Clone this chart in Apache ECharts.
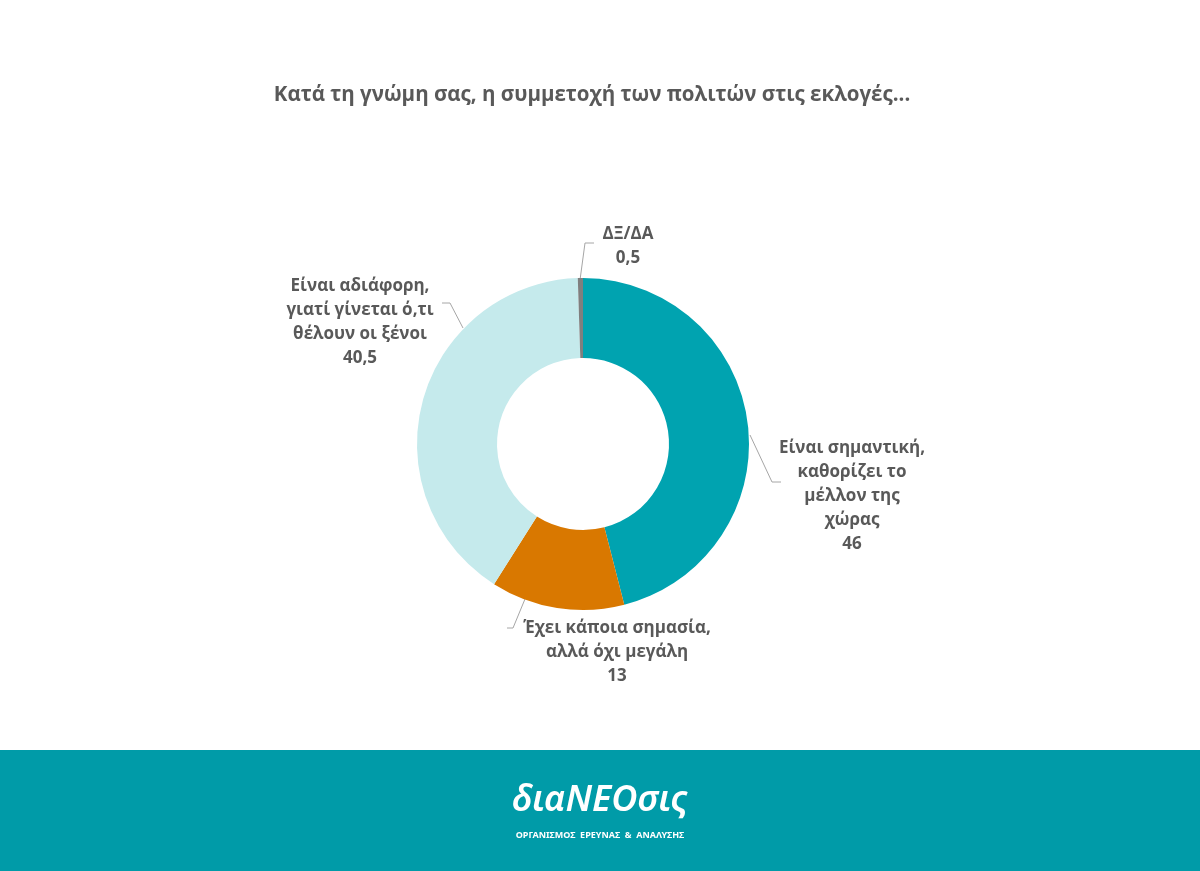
<!DOCTYPE html>
<html lang="el">
<head>
    <meta charset="UTF-8">
    <title>echarts</title>
    <script src="https://cdn.jsdelivr.net/npm/echarts@6/dist/echarts.min.js"></script>
    <style>
        html, body { margin: 0; padding: 0; background: #fff; }
    </style>
</head>
<body>
    <div id="charts1" style="width: 1200px;height:871px;"></div>
    <script type="text/javascript">
        // δεδομένα
        var categories = [
            'Είναι σημαντική,\nκαθορίζει το\nμέλλον της\nχώρας',
            'Έχει κάποια σημασία,\nαλλά όχι μεγάλη',
            'Είναι αδιάφορη,\nγιατί γίνεται ό,τι\nθέλουν οι ξένοι',
            'ΔΞ/ΔΑ'
        ];
        var values = [46, 13, 40.5, 0.5];
        var colors = ['#00A3B0', '#D97800', '#C5EAEC', '#7F7F7F'];

        // θέσεις ετικετών (κέντρο κειμένου) και γραμμές οδηγοί
        var labelPos = [[852, 496], [617, 652], [360, 322], [628, 246]];
        var leaderLines = [
            [[750, 435], [772, 482], [781, 482]],
            [[525, 599], [513, 628], [507, 628]],
            [[463, 328], [450, 303], [442, 303]],
            [[580, 280], [585, 243], [594, 243]]
        ];

        var myChart = echarts.init(document.getElementById('charts1'));

        var data = [];
        for (var i = 0; i < values.length; i++) {
            data.push({
                name: categories[i],
                value: values[i],
                itemStyle: { color: colors[i] }
            });
        }

        var option = {
            backgroundColor: '#ffffff',
            title: {
                text: 'Κατά τη γνώμη σας, η συμμετοχή των πολιτών στις εκλογές...',
                left: 587,
                top: 80,
                textAlign: 'center',
                textStyle: {
                    fontFamily: 'Open Sans',
                    fontSize: 20.5,
                    fontWeight: 'bold',
                    color: '#595959'
                }
            },
            graphic: [
                {
                    type: 'rect',
                    shape: { x: 0, y: 750, width: 1200, height: 121 },
                    style: { fill: '#009BA8' },
                    z: -1
                },
                {
                    type: 'text',
                    x: 600, y: 801,
                    style: {
                        text: 'διαNEOσις',
                        fill: '#ffffff',
                        font: 'italic 600 36px "Noto Sans"',
                        align: 'center',
                        verticalAlign: 'middle'
                    }
                },
                {
                    type: 'text',
                    x: 600, y: 835,
                    style: {
                        text: 'ΟΡΓΑΝΙΣΜΟΣ  ΕΡΕΥΝΑΣ  &  ΑΝΑΛΥΣΗΣ',
                        fill: '#ffffff',
                        font: 'bold 9px "Noto Sans"',
                        align: 'center',
                        verticalAlign: 'middle'
                    }
                }
            ],
            series: [{
                type: 'pie',
                center: [583, 444],
                radius: [86, 166],
                startAngle: 90,
                clockwise: true,
                animation: false,
                data: data,
                label: {
                    show: true,
                    formatter: function (p) {
                        return p.name + '\n' + String(p.value).replace('.', ',');
                    },
                    fontFamily: 'Open Sans',
                    fontSize: 17,
                    fontWeight: 'bold',
                    color: '#595959',
                    lineHeight: 24,
                    align: 'center'
                },
                labelLine: {
                    show: true,
                    lineStyle: { color: '#A6A6A6', width: 1 }
                },
                labelLayout: function (params) {
                    var p = labelPos[params.dataIndex];
                    return {
                        x: p[0],
                        y: p[1],
                        align: 'center',
                        verticalAlign: 'middle',
                        moveOverlap: false,
                        labelLinePoints: leaderLines[params.dataIndex]
                    };
                }
            }]
        };
        myChart.setOption(option);
    </script>
</body>
</html>
